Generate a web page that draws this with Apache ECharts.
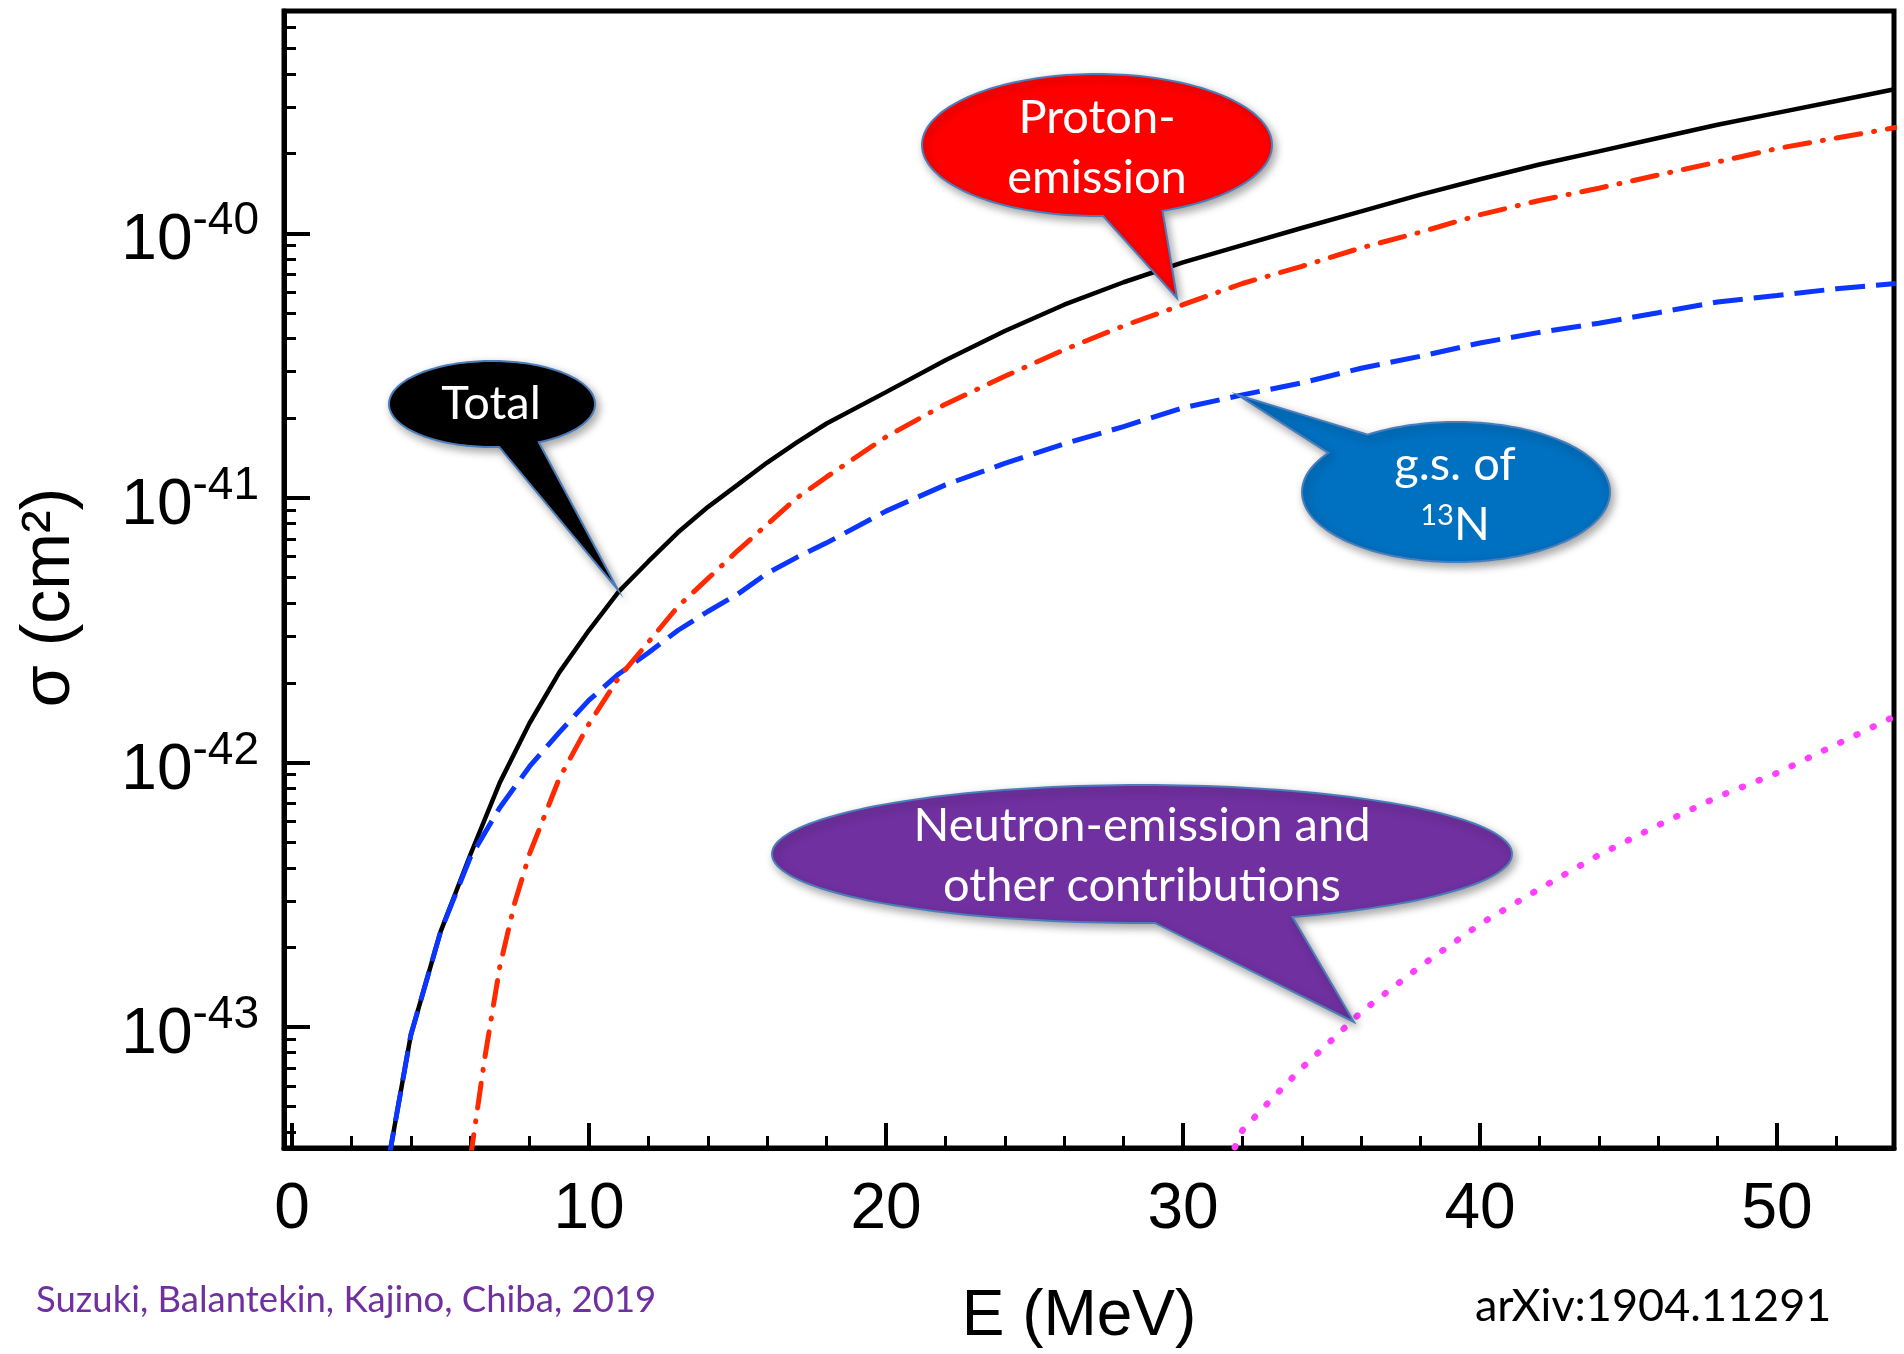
<!DOCTYPE html>
<html>
<head>
<meta charset="utf-8">
<script src="https://cdn.jsdelivr.net/npm/echarts@6/dist/echarts.min.js"></script>
<style>
  html, body { margin: 0; padding: 0; background: #ffffff; }
  #chart { width: 1904px; height: 1354px; }
</style>
</head>
<body>
<div id="chart"></div>
<script>
// Neutrino energy grid (MeV) for the total and ground-state cross sections
const energyTotal = [3, 4, 5, 6, 7, 8, 9, 10, 11, 12, 13, 14, 15, 16, 17, 18, 20, 22, 24, 26, 28, 30, 32, 34, 36, 38, 40, 42, 44, 46, 48, 50, 52, 54];
// Total cross section (cm^2)
const sigmaTotal = [2.19e-44, 9.33e-44, 2.29e-43, 4.47e-43, 8.41e-43, 1.41e-42, 2.19e-42, 3.16e-42, 4.42e-42, 5.75e-42,
  7.41e-42, 9.23e-42, 1.12e-41, 1.36e-41, 1.62e-41, 1.91e-41, 2.51e-41, 3.31e-41, 4.27e-41, 5.37e-41,
  6.53e-41, 7.76e-41, 9.02e-41, 1.047e-40, 1.21e-40, 1.40e-40, 1.60e-40, 1.82e-40, 2.04e-40, 2.29e-40,
  2.57e-40, 2.85e-40, 3.16e-40, 3.51e-40];
// Transition to the ground state of 13N (cm^2)
const sigmaGs = [2.19e-44, 9.33e-44, 2.29e-43, 4.37e-43, 6.76e-43, 9.66e-43, 1.30e-42, 1.72e-42, 2.16e-42, 2.60e-42,
  3.16e-42, 3.72e-42, 4.32e-42, 5.19e-42, 5.96e-42, 6.76e-42, 8.91e-42, 1.12e-41, 1.35e-41, 1.60e-41,
  1.86e-41, 2.19e-41, 2.45e-41, 2.72e-41, 3.09e-41, 3.43e-41, 3.85e-41, 4.22e-41, 4.57e-41, 5.01e-41,
  5.50e-41, 5.82e-41, 6.17e-41, 6.46e-41];
// Proton-emission channel
const energyProton = [6, 6.5, 7, 7.5, 8, 9, 10, 11, 12, 13, 14, 15, 16, 17, 18, 20, 22, 24, 26, 28, 30, 32, 34, 36, 38, 40, 42, 44, 46, 48, 50, 52, 54];
const sigmaProton = [3.16e-44, 7.76e-44, 1.70e-43, 2.95e-43, 4.52e-43, 8.71e-43, 1.40e-42, 2.09e-42, 2.85e-42, 3.89e-42,
  4.95e-42, 6.31e-42, 7.94e-42, 1.00e-41, 1.20e-41, 1.70e-41, 2.26e-41, 2.88e-41, 3.63e-41, 4.47e-41,
  5.37e-41, 6.46e-41, 7.50e-41, 8.81e-41, 1.01e-40, 1.175e-40, 1.33e-40, 1.48e-40, 1.66e-40, 1.86e-40,
  2.09e-40, 2.29e-40, 2.51e-40];
// Neutron-emission and other contributions
const energyOther = [31, 32, 33, 34, 35, 36, 38, 40, 42, 44, 46, 48, 50, 52, 54];
const sigmaOther = [2.29e-44, 4.07e-44, 5.37e-44, 7.00e-44, 8.91e-44, 1.14e-43, 1.70e-43, 2.45e-43, 3.33e-43, 4.47e-43,
  5.79e-43, 7.41e-43, 9.12e-43, 1.17e-42, 1.50e-42];

// Axis ticks (energy in MeV, cross-section decades as powers of ten)
const xMajorTicks = [0, 10, 20, 30, 40, 50];
const xMinorTicks = [2, 4, 6, 8, 12, 14, 16, 18, 22, 24, 26, 28, 32, 34, 36, 38, 42, 44, 46, 48, 52];
const yDecades = [-43, -42, -41, -40];

const X_MIN = -0.27, X_MAX = 53.94;
// vertical range in decades: 3.49e-44 .. 6.92e-40 cm^2
const Y_MIN = -43.457, Y_MAX = -39.16;

// the vertical axis is logarithmic: it is laid out in log10(sigma)
const lg = v => Math.log10(v);

// minor log ticks at 2..9 x 10^n inside the visible range
const yMinorTicks = [];
for (let n = -44; n <= -40; n++) {
  for (let k = 2; k <= 9; k++) {
    const v = lg(k) + n;
    if (v >= Y_MIN && v <= Y_MAX) yMinorTicks.push(v);
  }
}

const pairs = (xs, ys) => xs.map((x, i) => [x, lg(ys[i])]);

const AXIS_FONT = '"Liberation Sans", Arial, Helvetica, sans-serif';
const NOTE_FONT = 'Lato, "Open Sans", sans-serif';

const chart = echarts.init(document.getElementById('chart'));

// speech-balloon outline: ellipse with a pointed tail between two angles
function balloon(cx, cy, rx, ry, a0, a1, tip) {
  const pts = [];
  for (let a = a1; a < a0 + 360; a += 2) {
    const r = a * Math.PI / 180;
    pts.push([cx + rx * Math.cos(r), cy + ry * Math.sin(r)]);
  }
  const r0 = a0 * Math.PI / 180;
  pts.push([cx + rx * Math.cos(r0), cy + ry * Math.sin(r0)]);
  pts.push(tip);
  return pts;
}

function balloonShape(points, fill) {
  return {
    type: 'polygon', z: 100,
    shape: { points: points },
    style: {
      fill: fill, stroke: '#4a7ebb', lineWidth: 2,
      shadowBlur: 8, shadowOffsetX: 3, shadowOffsetY: 4, shadowColor: 'rgba(0,0,0,0.35)'
    }
  };
}

function balloonText(x, y, text, rich) {
  const style = {
    text: text, fill: '#ffffff', fontSize: 47, fontFamily: NOTE_FONT,
    align: 'center', verticalAlign: 'middle', textAlign: 'center', textVerticalAlign: 'middle',
    lineHeight: 60
  };
  if (rich) style.rich = rich;
  return { type: 'text', z: 101, x: x, y: y, style: style };
}

const option = {
  animation: false,
  backgroundColor: '#ffffff',
  grid: {
    left: 284, top: 11, right: 10, bottom: 205,
    show: true, borderColor: '#000000', borderWidth: 5, backgroundColor: 'transparent'
  },
  xAxis: [
    {
      type: 'value', min: X_MIN, max: X_MAX, position: 'bottom',
      name: 'E (MeV)', nameLocation: 'middle', nameGap: 137,
      nameTextStyle: { fontFamily: AXIS_FONT, fontSize: 64, color: '#000', padding: [0, 20, 0, 0] },
      axisLine: { onZero: false, lineStyle: { color: '#000', width: 5 } },
      axisTick: { inside: true, length: 25, customValues: xMajorTicks, lineStyle: { color: '#000', width: 4 } },
      axisLabel: { customValues: xMajorTicks, margin: 30, fontFamily: AXIS_FONT, fontSize: 64, color: '#000' },
      splitLine: { show: false }
    },
    {
      type: 'value', min: X_MIN, max: X_MAX, position: 'bottom',
      axisLine: { show: false, onZero: false },
      axisTick: { inside: true, length: 12, customValues: xMinorTicks, lineStyle: { color: '#000', width: 3 } },
      axisLabel: { show: false },
      splitLine: { show: false }
    }
  ],
  yAxis: [
    {
      type: 'value', min: Y_MIN, max: Y_MAX, position: 'left',
      name: 'σ (cm²)', nameLocation: 'middle', nameGap: 200,
      nameTextStyle: { fontFamily: AXIS_FONT, fontSize: 68, color: '#000', padding: [0, 36, 0, 0] },
      axisLine: { onZero: false, lineStyle: { color: '#000', width: 5 } },
      axisTick: { inside: true, length: 26, customValues: yDecades, lineStyle: { color: '#000', width: 4 } },
      axisLabel: {
        customValues: yDecades, margin: 25,
        formatter: v => '{b|10}{s|' + Math.round(v) + '}',
        rich: {
          b: { fontFamily: AXIS_FONT, fontSize: 64, lineHeight: 64, color: '#000', padding: [17, 0, 0, 0] },
          s: { fontFamily: AXIS_FONT, fontSize: 46, lineHeight: 46, color: '#000', padding: [0, 0, 23, 0] }
        }
      },
      splitLine: { show: false }
    },
    {
      type: 'value', min: Y_MIN, max: Y_MAX, position: 'left',
      axisLine: { show: false, onZero: false },
      axisTick: { inside: true, length: 12, customValues: yMinorTicks, lineStyle: { color: '#000', width: 3 } },
      axisLabel: { show: false },
      splitLine: { show: false }
    }
  ],
  series: [
    {
      name: 'Total', type: 'line', xAxisIndex: 0, yAxisIndex: 0, showSymbol: false, clip: true,
      data: pairs(energyTotal, sigmaTotal),
      lineStyle: { color: '#000000', width: 4.5, type: 'solid' }, z: 2
    },
    {
      name: 'g.s. of 13N', type: 'line', xAxisIndex: 0, yAxisIndex: 0, showSymbol: false, clip: true,
      data: pairs(energyTotal, sigmaGs),
      lineStyle: { color: '#0a36ff', width: 5, type: [30, 11], cap: 'butt' }, z: 3
    },
    {
      name: 'Proton-emission', type: 'line', xAxisIndex: 0, yAxisIndex: 0, showSymbol: false, clip: true,
      data: pairs(energyProton, sigmaProton),
      lineStyle: { color: '#ff2a00', width: 5, type: [25, 13, 1, 13], cap: 'round' }, z: 4
    },
    {
      name: 'Neutron-emission and other contributions', type: 'line', xAxisIndex: 0, yAxisIndex: 0, showSymbol: false, clip: true,
      data: pairs(energyOther, sigmaOther),
      lineStyle: { color: '#ff40ff', width: 6.5, type: [1, 17], cap: 'round' }, z: 5
    }
  ],
  graphic: [
    balloonShape(balloon(492, 404, 103, 43, 63, 86, [618, 590]), '#000000'),
    balloonText(491, 404, 'Total'),
    balloonShape(balloon(1097, 145, 175, 71, 68, 88, [1177, 298]), '#ff0000'),
    balloonText(1097, 148, 'Proton-\nemission'),
    balloonShape(balloon(1456, 492, 154, 70, 214, 235, [1238, 395]), '#0070c0'),
    balloonText(1455, 495, 'g.s. of\n{sup|13}N', {
      sup: { fontSize: 29, fontFamily: NOTE_FONT, fill: '#ffffff', color: '#ffffff', padding: [0, 0, 18, 0] }
    }),
    balloonShape(balloon(1142, 854, 370, 69, 66, 88, [1354, 1022]), '#7030a0'),
    balloonText(1142, 856, 'Neutron-emission and\nother contributions'),
    {
      type: 'text', z: 50, x: 36, y: 1300,
      style: { text: 'Suzuki, Balantekin, Kajino, Chiba, 2019', fill: '#7030a0', fontSize: 36.5, fontFamily: NOTE_FONT,
        align: 'left', verticalAlign: 'middle', textAlign: 'left', textVerticalAlign: 'middle' }
    },
    {
      type: 'text', z: 50, x: 1475, y: 1306,
      style: { text: 'arXiv:1904.11291', fill: '#000000', fontSize: 45, fontFamily: NOTE_FONT,
        align: 'left', verticalAlign: 'middle', textAlign: 'left', textVerticalAlign: 'middle' }
    }
  ]
};

chart.setOption(option);
</script>
</body>
</html>
